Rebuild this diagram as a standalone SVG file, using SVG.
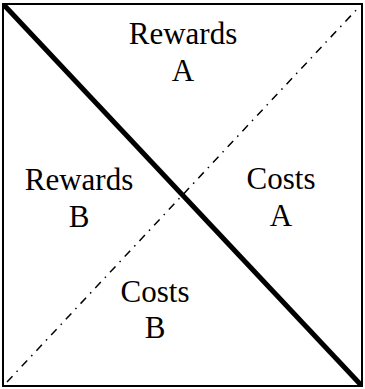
<svg xmlns="http://www.w3.org/2000/svg" width="365" height="389" viewBox="0 0 365 389">
<rect width="365" height="389" fill="#fff"/>
<g id="connectors">
<rect id="frame" x="3" y="4" width="359" height="382" fill="none" stroke="#000" stroke-width="2"/>
<line id="diag-thick" x1="4" y1="5" x2="361" y2="385" stroke="#000" stroke-width="5"/>
<line id="diag-dashdot" x1="7" y1="382" x2="359" y2="7" stroke="#000" stroke-width="1.5" stroke-dasharray="8,6,1.5,6"/>
</g>
<g font-family="Liberation Serif, DejaVu Serif, serif" font-size="31" text-anchor="middle" fill="#000">
<g id="rewards-a"><text x="183" y="44">Rewards</text><text x="183" y="81">A</text></g>
<g id="rewards-b"><text x="79" y="190">Rewards</text><text x="79" y="227">B</text></g>
<g id="costs-a"><text x="281" y="189">Costs</text><text x="281" y="226">A</text></g>
<g id="costs-b"><text x="155" y="302">Costs</text><text x="155" y="338">B</text></g>
</g>
</svg>
